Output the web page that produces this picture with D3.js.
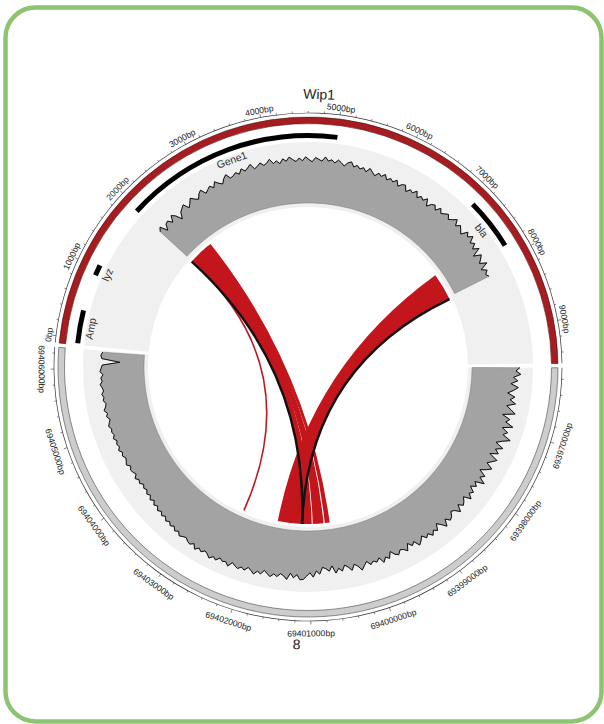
<!DOCTYPE html>
<html><head><meta charset="utf-8">
<script src="https://cdn.jsdelivr.net/npm/d3@7"></script>
<style>body{margin:0;background:#fff}svg{display:block}</style>
</head><body>
<svg id="c" width="604" height="724"></svg>
<script>
// ---------- data ----------
const sectorNames = ["Wip1", "8"];
const sectorStart = [0, 69396100];
const sectorEnd = [9630, 69406320];
const sectorFill = ["#a51d21", "#cdcdcd"];

const wip1Ticks = [0, 1000, 2000, 3000, 4000, 5000, 6000, 7000, 8000, 9000];
const chr8Ticks = [69397000, 69398000, 69399000, 69400000, 69401000, 69402000, 69403000, 69404000, 69405000, 69406000];

const geneNames = ["Amp", "lyz", "Gene1", "bla"];
const geneStart = [20, 990, 2040, 7200];
const geneEnd = [480, 1140, 5090, 7920];

const wip1CovStart = 2050, chr8CovStart = 69396100, covStep = 50;
const wip1Cov = [66, 72, 58, 68, 70, 62, 73, 67, 55, 66,
  70, 74, 63, 69, 76, 70, 66, 74, 78, 68,
  72, 76, 70, 79, 73, 69, 77, 82, 73, 75,
  79, 74, 82, 76, 80, 85, 75, 78, 83, 77,
  80, 86, 77, 81, 75, 83, 78, 85, 80, 76,
  82, 77, 84, 79, 75, 83, 80, 77, 85, 78,
  81, 76, 82, 78, 73, 80, 83, 75, 79, 74,
  78, 72, 80, 75, 70, 77, 73, 79, 71, 76,
  72, 78, 69, 75, 77, 67, 74, 71, 78, 68,
  74, 70, 77, 65, 73, 76, 69, 78, 71, 75,
  79, 72, 77, 83, 73, 80, 75, 70, 82, 76,
  84, 73, 79, 70, 80, 64, 77, 72, 66, 78,
  63, 72, 66, 70];
const chr8Cov = [87, 80, 89, 76, 84, 72, 86, 78, 68, 82,
  74, 85, 70, 79, 88, 66, 81, 75, 90, 72,
  84, 77, 93, 80, 70, 86, 74, 82, 68, 85,
  78, 71, 84, 76, 66, 80, 73, 86, 70, 77,
  68, 79, 74, 83, 70, 76, 80, 72, 84, 75,
  71, 79, 82, 74, 86, 77, 70, 81, 76, 83,
  75, 80, 72, 79, 84, 73, 78, 70, 82, 76,
  74, 81, 77, 69, 80, 75, 83, 72, 78, 74,
  79, 71, 77, 84, 75, 70, 80, 73, 68, 78,
  72, 80, 66, 75, 70, 67, 79, 73, 84, 76,
  82, 88, 89, 80, 86, 78, 90, 84, 81, 87,
  83, 89, 85, 80, 88, 84, 91, 86, 82, 89,
  85, 90, 87, 83, 92, 86, 88, 84, 91, 87,
  93, 88, 85, 90, 86, 92, 84, 89, 87, 83,
  85, 88, 82, 86, 80, 84, 79, 83, 77, 81,
  76, 80, 74, 78, 72, 77, 71, 75, 70, 73,
  69, 74, 71, 76, 70, 73, 75, 71, 77, 74,
  72, 76, 73, 78, 74, 77, 74, 79, 75, 78,
  76, 80, 77, 74, 79, 76, 81, 77, 75, 79,
  77, 80, 76, 78, 81, 77, 79, 75, 80, 78,
  76, 44, 77, 79, 76];

// ribbons Wip1 -> chr8
const linkWip1Start = [2035, 2260, 2400, 7690];
const linkWip1End = [2350, 2480, 2556, 8255];
const linkChr8Start = [69401005, 69400765, 69400640, 69401200];
const linkChr8End = [69401200, 69400985, 69400740, 69401695];
// thin single-position links
const lineWip1 = [2045, 2035, 8255];
const lineChr8 = [69402415, 69401200, 69401200];
const lineColor = ["#c3161c", "#111", "#111"];
const lineWidth = [1.6, 2.4, 2.4];

// ---------- layout ----------
const CX = 308, CY = 367;
const START_DEG = 275.5, GAP = 1, AXIS_SHIFT = [1.6, 0.8];
const svg = d3.select("#c");
svg.append("rect").attr("x", 5.5).attr("y", 7.5).attr("width", 596).attr("height", 714)
  .attr("rx", 30).attr("fill", "#fff").attr("stroke", "#8cc472").attr("stroke-width", 4.5);

const g = svg.append("g").attr("transform", `translate(${CX},${CY})`);
const rad = d => d * Math.PI / 180;
const lens = sectorStart.map((s, i) => sectorEnd[i] - s);
const degPerBp = (360 - GAP * sectorNames.length) / d3.sum(lens);
let cur = START_DEG;
const scales = sectorNames.map((n, i) => {
  const a0 = cur, a1 = cur + lens[i] * degPerBp;
  cur = a1 + GAP;
  return d3.scaleLinear().domain([sectorStart[i], sectorEnd[i]]).range([a0, a1]);
});
const polar = (a, r) => [r * Math.sin(rad(a)), -r * Math.cos(rad(a))];
const FONT = "'Liberation Sans', Arial, Helvetica, sans-serif";

const R = { bgIn: 160, bgOut: 225, covBase: 164, covTop: 219, geneIn: 229, geneOut: 234,
  ideoIn: 243.5, ideoOut: 250, axis: 254, link: 157 };
const rCov = d3.scaleLinear().domain([0, 100]).range([R.covBase, R.covTop]);

// light grey backgrounds
sectorNames.forEach((n, i) => {
  const [a0, a1] = scales[i].range();
  g.append("path").attr("d", d3.arc().innerRadius(R.bgIn).outerRadius(R.bgOut)
    .startAngle(rad(a0)).endAngle(rad(a1))()).attr("fill", "#f0f0f0");
});

// coverage tracks
[[wip1Cov, wip1CovStart, 0], [chr8Cov, chr8CovStart, 1]].forEach(([vals, st, si]) => {
  const pts = vals.map((v, k) => ({ a: scales[si](st + k * covStep), v }));
  g.append("path").datum(pts)
    .attr("d", d3.areaRadial().angle(d => rad(d.a)).innerRadius(R.covBase).outerRadius(d => rCov(d.v)))
    .attr("fill", "#a3a3a3").attr("stroke", "#777").attr("stroke-width", 0.5);
  g.append("path").datum(pts)
    .attr("d", d3.lineRadial().angle(d => rad(d.a)).radius(d => rCov(d.v)))
    .attr("fill", "none").attr("stroke", "#111").attr("stroke-width", 1).attr("stroke-linejoin", "round");
});

// genes
geneNames.forEach((n, i) => {
  const a0 = scales[0](geneStart[i]), a1 = scales[0](geneEnd[i]);
  g.append("path").attr("d", d3.arc().innerRadius(R.geneIn).outerRadius(R.geneOut)
    .startAngle(rad(a0)).endAngle(rad(a1))()).attr("fill", "#000");
  const am = (a0 + a1) / 2;
  const [x, y] = polar(am, 221);
  g.append("text").attr("transform", `translate(${x},${y}) rotate(${am > 180 ? am - 360 : am})`)
    .attr("text-anchor", "middle").attr("dominant-baseline", "central")
    .attr("font-family", FONT).attr("font-size", 10.5).attr("fill", "#333").text(n);
});

// ideogram + axis
const norm = a => ((a % 360) + 360) % 360;
function placeLabel(a, rTop, rBot, txt, size) {
  const an = norm(a);
  const bottom = an > 90 && an < 270;
  const [x, y] = polar(an, bottom ? rBot : rTop);
  const rot = bottom ? an - 180 : (an > 180 ? an - 360 : an);
  g.append("text").attr("transform", `translate(${x},${y}) rotate(${rot})`)
    .attr("text-anchor", "middle").attr("dominant-baseline", bottom ? "hanging" : "alphabetic")
    .attr("font-family", FONT).attr("font-size", size).attr("fill", "#222").text(txt);
}
sectorNames.forEach((n, i) => {
  const [a0, a1] = scales[i].range();
  g.append("path").attr("d", d3.arc().innerRadius(R.ideoIn).outerRadius(R.ideoOut)
    .startAngle(rad(a0)).endAngle(rad(a1))()).attr("fill", sectorFill[i])
    .attr("stroke", i === 0 ? "#4a0c0c" : "#444").attr("stroke-width", 0.6);
  g.append("path").attr("d", d3.arc().innerRadius(R.axis - 0.35).outerRadius(R.axis + 0.35)
    .startAngle(rad(a0)).endAngle(rad(a1))()).attr("fill", "#333");
  const ticks = i === 0 ? wip1Ticks : chr8Ticks;
  const minor = d3.range(Math.ceil(sectorStart[i] / 200) * 200, sectorEnd[i], 200);
  minor.forEach(t => {
    const a = scales[i](t) + AXIS_SHIFT[i];
    if (a > a1) return;
    const major = t % 1000 === 0;
    const [x1, y1] = polar(a, R.axis), [x2, y2] = polar(a, R.axis + (major ? 3.5 : 2));
    g.append("line").attr("x1", x1).attr("y1", y1).attr("x2", x2).attr("y2", y2)
      .attr("stroke", "#333").attr("stroke-width", 0.6);
  });
  ticks.forEach(t => placeLabel(scales[i](t) + AXIS_SHIFT[i], 258, 263, t + "bp", 8.6));
  const am = (a0 + a1) / 2;
  placeLabel(am, 268, 272, n, 14);
});

// links
const ribbon = d3.ribbon().radius(R.link);
linkWip1Start.forEach((s, i) => {
  g.append("path").attr("d", ribbon({
    source: { startAngle: rad(scales[0](s)), endAngle: rad(scales[0](linkWip1End[i])) },
    target: { startAngle: rad(scales[1](linkChr8Start[i])), endAngle: rad(scales[1](linkChr8End[i])) }
  })).attr("fill", "#c3161c");
});
lineWip1.forEach((s, i) => {
  const p = d3.path();
  const [x0, y0] = polar(scales[0](s), R.link), [x1, y1] = polar(scales[1](lineChr8[i]), R.link);
  p.moveTo(x0, y0); p.quadraticCurveTo(0, 0, x1, y1);
  g.append("path").attr("d", p.toString()).attr("fill", "none")
    .attr("stroke", lineColor[i]).attr("stroke-width", lineWidth[i]);
});
</script>
</body></html>
